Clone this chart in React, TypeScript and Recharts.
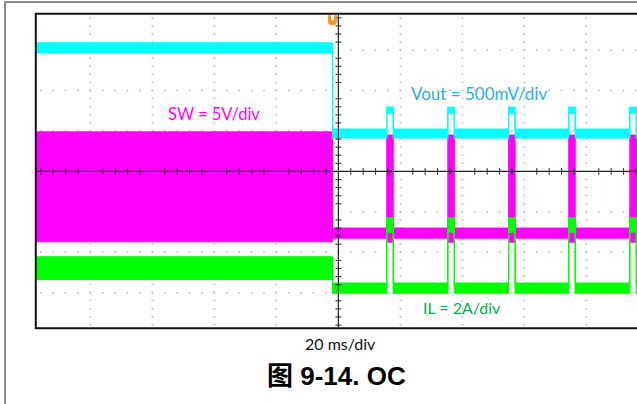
import {
  Area,
  CartesianGrid,
  ComposedChart,
  ReferenceArea,
  ReferenceDot,
  ReferenceLine,
  Scatter,
  XAxis,
  YAxis,
} from "recharts"

// time in ms (20 ms/div), vertical in screen divisions
const timeDomain = [-97.6, 100]
const divDomain = [-3.88, 3.9]
const gridTimes = [-80, -60, -40, -20, 20, 40, 60, 80]
const gridDivs = [-3, -2, -1, 1, 2, 3]

const triggerTime = -1.9
const hiccupStarts = [15.6, 35.3, 54.9, 74.3, 94.0]
const hiccupWidth = 2.1

// [low, high] of each trace band, in divisions
const voutBefore = [2.93, 3.18]
const voutAfter = [0.83, 1.05]
const voutPulse = [1.44, 1.59]
const swBefore = [-1.74, 0.98]
const swAfter = [-1.65, -1.4]
const swPulse = [-1.75, 0.9]
const ilBefore = [-2.67, -2.11]
const ilAfter = [-3.01, -2.76]
const ilPulse = [-1.5, -1.15]

type Pt = { t: number; band: number[] }

function buildTrace(before: number[], after: number[], pulse: number[]): Pt[] {
  const pts: Pt[] = [
    { t: timeDomain[0], band: before },
    { t: triggerTime, band: before },
    { t: triggerTime, band: after },
  ]
  hiccupStarts.forEach((s) => {
    pts.push({ t: s, band: after })
    pts.push({ t: s, band: pulse })
    pts.push({ t: s + hiccupWidth, band: pulse })
    pts.push({ t: s + hiccupWidth, band: after })
  })
  pts.push({ t: timeDomain[1], band: after })
  return pts
}

const voutData = buildTrace(voutBefore, voutAfter, voutPulse)
const swData = buildTrace(swBefore, swAfter, swPulse)
const ilData = buildTrace(ilBefore, ilAfter, ilPulse)

// minor tick marks on the centre cross (5 per division)
const timeMinor: { t: number; v: number }[] = []
for (let k = -24; k <= 25; k++) if (k % 5 !== 0) timeMinor.push({ t: k * 4, v: 0 })
const divMinor: { t: number; v: number }[] = []
for (let k = -19; k <= 19; k++) if (k % 5 !== 0) divMinor.push({ t: 0, v: k / 5 })

const TimeTick = (p: any) => (
  <line x1={p.cx} x2={p.cx} y1={p.cy - 3.3} y2={p.cy + 3.3} stroke="#222" strokeWidth={1} />
)
const DivTick = (p: any) => (
  <line x1={p.cx - 3} x2={p.cx + 3} y1={p.cy} y2={p.cy} stroke="#222" strokeWidth={1} />
)
const TriggerMark = (p: any) => (
  <path
    transform={`translate(${p.cx},${p.cy})`}
    d="M-4.5,1.5 h3 v5 h3 v-5 h3 v6 q0,4 -4.5,4 q-4.5,0 -4.5,-4 z"
    fill="#f39a1e"
  />
)

const label = (color: string, left: number, top: number, size = 16.5) => ({
  position: "absolute" as const,
  left,
  top,
  color,
  fontSize: size,
  lineHeight: 1,
  fontFamily: "Lato, 'Open Sans', sans-serif",
  whiteSpace: "nowrap" as const,
})

export default function App() {
  return (
    <div
      style={{
        position: "absolute",
        left: 0,
        top: 0,
        width: 637,
        height: 404,
        overflow: "hidden",
        background: "#fff",
      }}
    >
      <div
        style={{
          position: "absolute",
          left: 4,
          top: 1,
          width: 700,
          height: 500,
          border: "2px solid #8c8c8c",
          boxSizing: "border-box",
        }}
      />
      <div style={{ position: "absolute", left: 0, top: 0 }}>
        <ComposedChart
          width={700}
          height={345}
          margin={{ top: 13.8, left: 35.8, right: 51.6, bottom: 16.7 }}
        >
          <XAxis dataKey="t" type="number" domain={timeDomain} allowDataOverflow hide />
          <YAxis type="number" domain={divDomain} allowDataOverflow hide />
          <CartesianGrid
            vertical={false}
            horizontalValues={gridDivs}
            stroke="#b4b4b4"
            strokeWidth={1.5}
            strokeDasharray="1.5 10.9"
            strokeDashoffset={-4.2}
          />
          <CartesianGrid
            horizontal={false}
            verticalValues={gridTimes}
            stroke="#b4b4b4"
            strokeWidth={1.5}
            strokeDasharray="1.5 6.58"
            strokeDashoffset={-3.25}
          />
          <Area
            data={swData}
            dataKey="band"
            type="linear"
            stroke="#ff00ff"
            strokeWidth={1}
            fill="#ff00ff"
            fillOpacity={1}
            isAnimationActive={false}
          />
          <Area
            data={voutData}
            dataKey="band"
            type="linear"
            stroke="#00ffff"
            strokeWidth={1.2}
            fill="#00ffff"
            fillOpacity={1}
            isAnimationActive={false}
          />
          <Area
            data={ilData}
            dataKey="band"
            type="linear"
            stroke="#00ff00"
            strokeWidth={1.2}
            fill="#00ff00"
            fillOpacity={1}
            isAnimationActive={false}
          />
          <ReferenceLine y={0} stroke="#222" strokeWidth={1.2} />
          <ReferenceLine x={0} stroke="#222" strokeWidth={1.2} />
          <Scatter data={timeMinor} dataKey="v" shape={TimeTick} isAnimationActive={false} />
          <Scatter data={divMinor} dataKey="v" shape={DivTick} isAnimationActive={false} />
          <ReferenceArea
            x1={timeDomain[0]}
            x2={timeDomain[1]}
            y1={divDomain[0]}
            y2={divDomain[1]}
            fill="none"
            stroke="#111"
            strokeWidth={2}
          />
          <ReferenceDot
            x={triggerTime}
            y={divDomain[1]}
            r={0}
            ifOverflow="visible"
            shape={TriggerMark}
          />
        </ComposedChart>
      </div>
      <div style={label("#ff00ff", 168, 106)}>SW = 5V/div</div>
      <div style={label("#2aaee8", 411, 85, 17)}>Vout = 500mV/div</div>
      <div style={label("#00b050", 423, 300, 16)}>IL = 2A/div</div>
      <div style={label("#111", 305, 336, 16)}>20 ms/div</div>
      <div
        style={{
          position: "absolute",
          left: 267,
          top: 363,
          fontSize: 26,
          lineHeight: 1,
          fontWeight: 700,
          color: "#000",
          fontFamily: "'Liberation Sans', Arial, 'Noto Sans CJK SC', sans-serif",
          whiteSpace: "nowrap",
        }}
      >
        图 9-14. OC
      </div>
    </div>
  )
}
